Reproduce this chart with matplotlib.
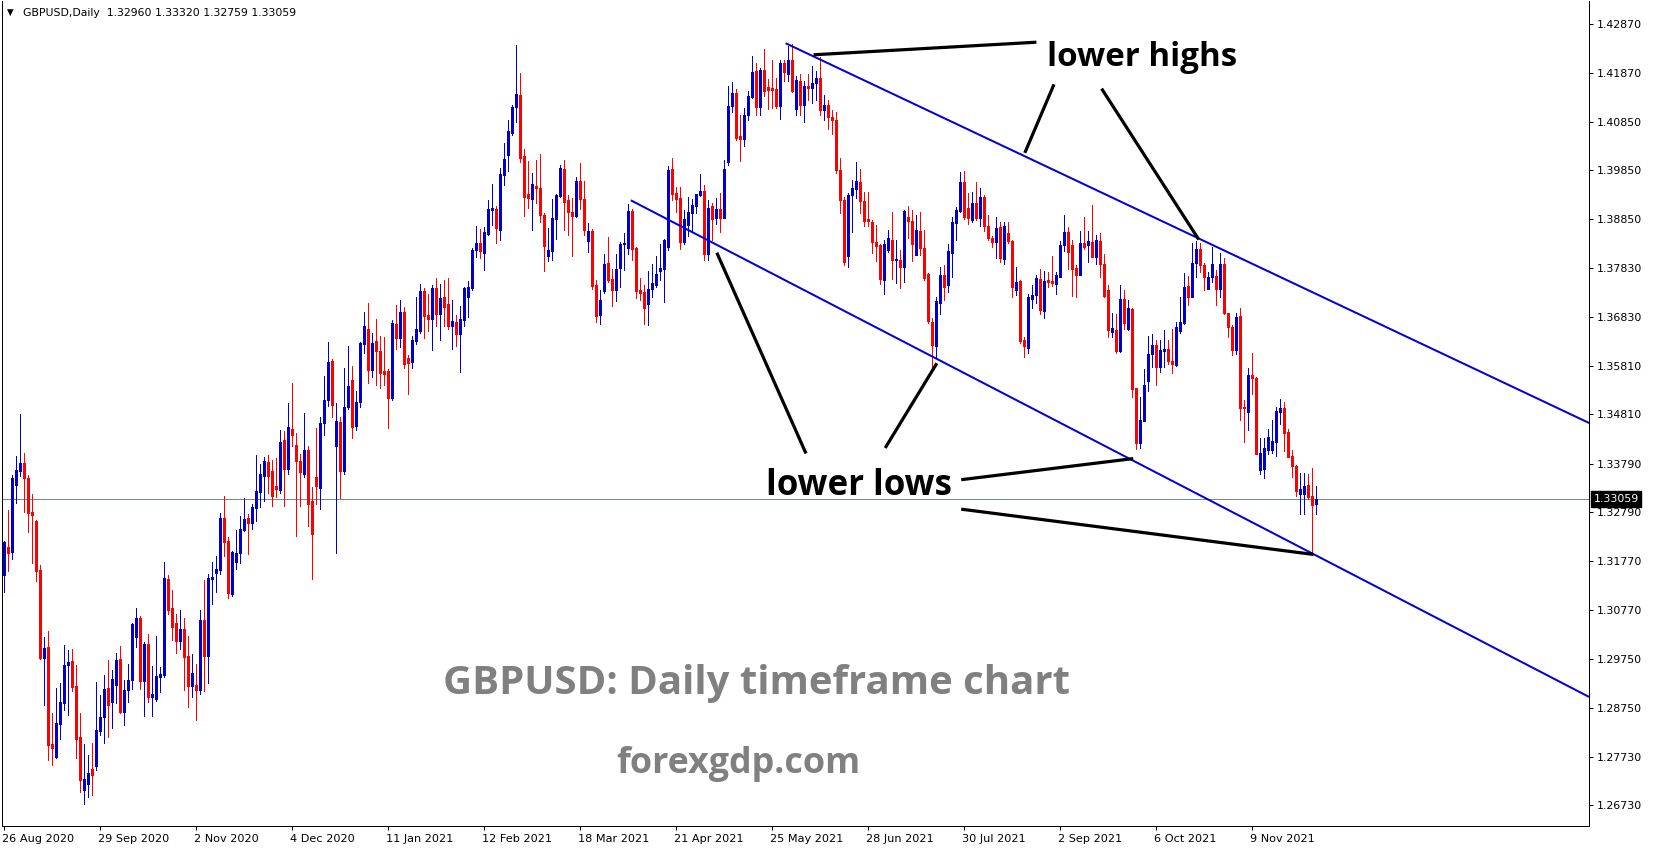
import matplotlib
matplotlib.use('Agg')
import matplotlib.pyplot as plt
from matplotlib.transforms import ScaledTranslation, blended_transform_factory

W, H, DPI = 1653, 850, 100

# ---------------- data (GBPUSD daily candles) ----------------
opens = [
    1.3149, 1.3206, 1.3197, 1.3335, 1.3364, 1.3381, 1.3350, 1.3280, 1.3260, 1.3159,  # 0
    1.2978, 1.3001, 1.2799, 1.2773, 1.2842, 1.2884, 1.2963, 1.2971, 1.2920, 1.2815,  # 10
    1.2705, 1.2718, 1.2749, 1.2754, 1.2827, 1.2856, 1.2916, 1.2887, 1.2921, 1.2975,  # 20
    1.2866, 1.2911, 1.2932, 1.3021, 1.3061, 1.2930, 1.3007, 1.2897, 1.2892, 1.2939,  # 30
    1.2942, 1.3140, 1.3080, 1.3049, 1.3013, 1.3037, 1.2981, 1.2919, 1.2922, 1.2912,  # 40
    1.3056, 1.2982, 1.3140, 1.3153, 1.3159, 1.3267, 1.3219, 1.3109, 1.3175, 1.3194,  # 50
    1.3242, 1.3267, 1.3257, 1.3288, 1.3321, 1.3354, 1.3383, 1.3363, 1.3332, 1.3325,  # 60
    1.3427, 1.3369, 1.3451, 1.3418, 1.3384, 1.3358, 1.3407, 1.3301, 1.3352, 1.3328,  # 70
    1.3463, 1.3511, 1.3591, 1.3416, 1.3466, 1.3364, 1.3496, 1.3552, 1.3457, 1.3506,  # 80
    1.3627, 1.3657, 1.3573, 1.3633, 1.3612, 1.3570, 1.3571, 1.3515, 1.3667, 1.3638,  # 90
    1.3692, 1.3597, 1.3589, 1.3633, 1.3653, 1.3735, 1.3687, 1.3678, 1.3741, 1.3689,  # 100
    1.3724, 1.3708, 1.3663, 1.3672, 1.3646, 1.3676, 1.3723, 1.3741, 1.3820, 1.3835,  # 110
    1.3815, 1.3853, 1.3903, 1.3906, 1.3862, 1.3976, 1.4017, 1.4063, 1.4115, 1.4141,  # 120
    1.4014, 1.3936, 1.3926, 1.3953, 1.3948, 1.3893, 1.3808, 1.3819, 1.3884, 1.3933,  # 130
    1.3988, 1.3924, 1.3900, 1.3891, 1.3962, 1.3926, 1.3839, 1.3860, 1.3748, 1.3686,  # 140
    1.3736, 1.3793, 1.3760, 1.3738, 1.3784, 1.3833, 1.3825, 1.3901, 1.3824, 1.3738,  # 150
    1.3734, 1.3709, 1.3740, 1.3748, 1.3778, 1.3782, 1.3827, 1.3988, 1.3939, 1.3927,  # 160
    1.3836, 1.3872, 1.3897, 1.3912, 1.3934, 1.3942, 1.3813, 1.3911, 1.3886, 1.3906,  # 170
    1.3887, 1.4003, 1.4117, 1.4145, 1.4055, 1.4050, 1.4099, 1.4137, 1.4190, 1.4115,  # 180
    1.4192, 1.4158, 1.4156, 1.4153, 1.4119, 1.4207, 1.4185, 1.4214, 1.4112, 1.4170,  # 190
    1.4120, 1.4160, 1.4155, 1.4165, 1.4175, 1.4110, 1.4120, 1.4095, 1.4090, 1.3986,  # 200
    1.3924, 1.3808, 1.3934, 1.3946, 1.3960, 1.3922, 1.3884, 1.3879, 1.3836, 1.3831,  # 210
    1.3758, 1.3820, 1.3842, 1.3800, 1.3800, 1.3785, 1.3888, 1.3881, 1.3811, 1.3860,  # 220
    1.3824, 1.3771, 1.3671, 1.3623, 1.3712, 1.3769, 1.3748, 1.3815, 1.3877, 1.3901,  # 230
    1.3960, 1.3907, 1.3882, 1.3917, 1.3886, 1.3929, 1.3871, 1.3846, 1.3836, 1.3869,  # 240
    1.3802, 1.3855, 1.3840, 1.3738, 1.3756, 1.3634, 1.3617, 1.3719, 1.3727, 1.3760,  # 250
    1.3695, 1.3758, 1.3756, 1.3751, 1.3765, 1.3831, 1.3857, 1.3831, 1.3784, 1.3769,  # 260
    1.3834, 1.3831, 1.3838, 1.3805, 1.3839, 1.3791, 1.3738, 1.3652, 1.3656, 1.3612,  # 270
    1.3719, 1.3658, 1.3698, 1.3536, 1.3421, 1.3468, 1.3550, 1.3605, 1.3624, 1.3579,  # 280
    1.3612, 1.3616, 1.3591, 1.3583, 1.3653, 1.3669, 1.3746, 1.3724, 1.3793, 1.3822,  # 290
    1.3789, 1.3740, 1.3764, 1.3767, 1.3740, 1.3791, 1.3691, 1.3662, 1.3614, 1.3684,  # 300
    1.3495, 1.3485, 1.3562, 1.3555, 1.3366, 1.3367, 1.3408, 1.3407, 1.3424, 1.3486,  # 310
    1.3493, 1.3445, 1.3394, 1.3375, 1.3316, 1.3316, 1.3335, 1.3313, 1.32960,         # 320
]
highs = [
    1.3220, 1.3283, 1.3355, 1.3395, 1.3482, 1.3402, 1.3355, 1.3316, 1.3262, 1.3170,
    1.3021, 1.3034, 1.2863, 1.2916, 1.2925, 1.3004, 1.2995, 1.2997, 1.2963, 1.2864,
    1.2800, 1.2777, 1.2801, 1.2927, 1.2901, 1.2942, 1.2974, 1.2952, 1.2987, 1.3003,
    1.2932, 1.2966, 1.3049, 1.3080, 1.3065, 1.3010, 1.3027, 1.2961, 1.3023, 1.2959,
    1.3175, 1.3149, 1.3119, 1.3068, 1.3076, 1.3061, 1.3023, 1.2985, 1.2966, 1.3076,
    1.3138, 1.3151, 1.3176, 1.3189, 1.3278, 1.3312, 1.3228, 1.3198, 1.3242, 1.3271,
    1.3309, 1.3276, 1.3296, 1.3397, 1.3378, 1.3393, 1.3397, 1.3387, 1.3390, 1.3449,
    1.3446, 1.3505, 1.3546, 1.3443, 1.3399, 1.3484, 1.3416, 1.3330, 1.3452, 1.3475,
    1.3560, 1.3630, 1.3596, 1.3505, 1.3475, 1.3577, 1.3623, 1.3580, 1.3530, 1.3631,
    1.3692, 1.3711, 1.3648, 1.3678, 1.3642, 1.3641, 1.3575, 1.3676, 1.3706, 1.3717,
    1.3702, 1.3603, 1.3642, 1.3724, 1.3751, 1.3741, 1.3729, 1.3748, 1.3763, 1.3751,
    1.3758, 1.3763, 1.3717, 1.3687, 1.3704, 1.3745, 1.3756, 1.3825, 1.3870, 1.3864,
    1.3868, 1.3924, 1.3956, 1.3911, 1.3989, 1.4041, 1.4090, 1.4120, 1.4243, 1.4187,
    1.4030, 1.4004, 1.3980, 1.4006, 1.4019, 1.3896, 1.3865, 1.3926, 1.3937, 1.3996,
    1.4006, 1.3934, 1.3927, 1.3972, 1.4001, 1.3962, 1.3877, 1.3863, 1.3758, 1.3738,
    1.3812, 1.3848, 1.3782, 1.3812, 1.3838, 1.3855, 1.3915, 1.3905, 1.3826, 1.3762,
    1.3748, 1.3778, 1.3791, 1.3809, 1.3833, 1.3843, 1.3995, 1.4011, 1.3951, 1.3951,
    1.3903, 1.3931, 1.3925, 1.3937, 1.3977, 1.3955, 1.3924, 1.3917, 1.3927, 1.3939,
    1.4006, 1.4159, 1.4167, 1.4154, 1.4099, 1.4113, 1.4148, 1.4221, 1.4206, 1.4196,
    1.4236, 1.4173, 1.4213, 1.4176, 1.4214, 1.4213, 1.4241, 1.4247, 1.4180, 1.4185,
    1.4170, 1.4185, 1.4200, 1.4190, 1.4220, 1.4140, 1.4130, 1.4110, 1.4105, 1.4010,
    1.3930, 1.3938, 1.3965, 1.4002, 1.3988, 1.3940, 1.3940, 1.3882, 1.3872, 1.3832,
    1.3842, 1.3862, 1.3900, 1.3842, 1.3820, 1.3903, 1.3911, 1.3904, 1.3893, 1.3900,
    1.3862, 1.3773, 1.3679, 1.3724, 1.3786, 1.3789, 1.3832, 1.3889, 1.3910, 1.3981,
    1.3984, 1.3938, 1.3940, 1.3960, 1.3948, 1.3935, 1.3893, 1.3850, 1.3888, 1.3879,
    1.3878, 1.3878, 1.3842, 1.3785, 1.3758, 1.3641, 1.3729, 1.3748, 1.3769, 1.3782,
    1.3777, 1.3776, 1.3808, 1.3774, 1.3840, 1.3893, 1.3867, 1.3842, 1.3789, 1.3860,
    1.3888, 1.3860, 1.3913, 1.3851, 1.3855, 1.3813, 1.3748, 1.3691, 1.3688, 1.3748,
    1.3738, 1.3717, 1.3700, 1.3536, 1.3516, 1.3574, 1.3643, 1.3647, 1.3634, 1.3634,
    1.3656, 1.3634, 1.3658, 1.3672, 1.3723, 1.3772, 1.3767, 1.3834, 1.3840, 1.3834,
    1.3793, 1.3776, 1.3826, 1.3779, 1.3815, 1.3803, 1.3691, 1.3665, 1.3691, 1.3700,
    1.3510, 1.3576, 1.3608, 1.3559, 1.3433, 1.3432, 1.3450, 1.3470, 1.3497, 1.3512,
    1.3507, 1.3450, 1.3408, 1.3376, 1.3359, 1.3360, 1.3357, 1.3371, 1.33320,
]
lows = [
    1.3114, 1.3157, 1.3182, 1.3298, 1.3354, 1.3280, 1.3238, 1.3173, 1.3137, 1.2975,
    1.2880, 1.2766, 1.2756, 1.2770, 1.2811, 1.2870, 1.2859, 1.2909, 1.2771, 1.2700,
    1.2675, 1.2690, 1.2695, 1.2746, 1.2818, 1.2801, 1.2815, 1.2832, 1.2884, 1.2863,
    1.2839, 1.2887, 1.2914, 1.3001, 1.2914, 1.2858, 1.2887, 1.2858, 1.2889, 1.2908,
    1.2939, 1.3068, 1.3014, 1.2988, 1.2996, 1.2911, 1.2877, 1.2896, 1.2849, 1.2904,
    1.2910, 1.2926, 1.3090, 1.3114, 1.3152, 1.3189, 1.3102, 1.3106, 1.3161, 1.3174,
    1.3240, 1.3192, 1.3243, 1.3260, 1.3290, 1.3302, 1.3319, 1.3291, 1.3310, 1.3319,
    1.3291, 1.3357, 1.3416, 1.3230, 1.3292, 1.3352, 1.3250, 1.3140, 1.3295, 1.3285,
    1.3439, 1.3499, 1.3476, 1.3194, 1.3308, 1.3357, 1.3491, 1.3433, 1.3448, 1.3496,
    1.3607, 1.3546, 1.3558, 1.3541, 1.3536, 1.3541, 1.3453, 1.3510, 1.3616, 1.3621,
    1.3577, 1.3523, 1.3576, 1.3626, 1.3650, 1.3638, 1.3653, 1.3614, 1.3663, 1.3635,
    1.3663, 1.3658, 1.3616, 1.3623, 1.3569, 1.3663, 1.3683, 1.3738, 1.3805, 1.3803,
    1.3779, 1.3851, 1.3872, 1.3834, 1.3842, 1.3954, 1.3984, 1.4058, 1.4084, 1.4002,
    1.3891, 1.3907, 1.3862, 1.3917, 1.3879, 1.3778, 1.3798, 1.3800, 1.3843, 1.3931,
    1.3862, 1.3851, 1.3808, 1.3889, 1.3906, 1.3851, 1.3817, 1.3739, 1.3672, 1.3667,
    1.3731, 1.3755, 1.3705, 1.3716, 1.3743, 1.3779, 1.3813, 1.3800, 1.3722, 1.3717,
    1.3667, 1.3665, 1.3724, 1.3744, 1.3758, 1.3713, 1.3820, 1.3924, 1.3900, 1.3823,
    1.3833, 1.3850, 1.3857, 1.3896, 1.3933, 1.3800, 1.3800, 1.3841, 1.3874, 1.3857,
    1.3886, 1.3996, 1.4105, 1.4048, 1.4005, 1.4036, 1.4090, 1.4134, 1.4099, 1.4099,
    1.4139, 1.4111, 1.4113, 1.4113, 1.4091, 1.4170, 1.4170, 1.4146, 1.4100, 1.4100,
    1.4085, 1.4130, 1.4125, 1.4130, 1.4100, 1.4090, 1.4070, 1.4060, 1.3980, 1.3896,
    1.3789, 1.3786, 1.3858, 1.3927, 1.3896, 1.3871, 1.3871, 1.3815, 1.3798, 1.3750,
    1.3729, 1.3817, 1.3760, 1.3753, 1.3741, 1.3755, 1.3845, 1.3798, 1.3810, 1.3810,
    1.3758, 1.3670, 1.3572, 1.3597, 1.3688, 1.3717, 1.3734, 1.3765, 1.3841, 1.3898,
    1.3884, 1.3874, 1.3879, 1.3882, 1.3870, 1.3860, 1.3841, 1.3826, 1.3803, 1.3796,
    1.3791, 1.3834, 1.3724, 1.3727, 1.3629, 1.3600, 1.3607, 1.3700, 1.3710, 1.3688,
    1.3679, 1.3745, 1.3746, 1.3729, 1.3764, 1.3818, 1.3782, 1.3725, 1.3724, 1.3768,
    1.3822, 1.3796, 1.3805, 1.3791, 1.3764, 1.3724, 1.3640, 1.3641, 1.3608, 1.3610,
    1.3658, 1.3656, 1.3517, 1.3410, 1.3412, 1.3468, 1.3530, 1.3579, 1.3541, 1.3569,
    1.3579, 1.3585, 1.3567, 1.3581, 1.3650, 1.3667, 1.3707, 1.3723, 1.3764, 1.3776,
    1.3738, 1.3740, 1.3755, 1.3707, 1.3723, 1.3688, 1.3640, 1.3603, 1.3605, 1.3469,
    1.3424, 1.3448, 1.3523, 1.3398, 1.3357, 1.3350, 1.3400, 1.3402, 1.3395, 1.3462,
    1.3406, 1.3392, 1.3351, 1.3312, 1.3276, 1.3276, 1.3307, 1.3193, 1.32759,
]
closes = [
    1.3218, 1.3195, 1.3350, 1.3366, 1.3380, 1.3349, 1.3278, 1.3273, 1.3158, 1.2977,
    1.2999, 1.2797, 1.2792, 1.2844, 1.2887, 1.2963, 1.2970, 1.2918, 1.2811, 1.2725,
    1.2727, 1.2739, 1.2735, 1.2828, 1.2856, 1.2913, 1.2881, 1.2934, 1.2973, 1.2866,
    1.2911, 1.2933, 1.3047, 1.3060, 1.2930, 1.3007, 1.2897, 1.2904, 1.2940, 1.2944,
    1.3143, 1.3076, 1.3042, 1.3013, 1.3037, 1.2980, 1.2919, 1.2947, 1.2912, 1.3056,
    1.2982, 1.3142, 1.3145, 1.3161, 1.3267, 1.3218, 1.3111, 1.3196, 1.3194, 1.3244,
    1.3265, 1.3257, 1.3290, 1.3322, 1.3357, 1.3384, 1.3353, 1.3313, 1.3326, 1.3424,
    1.3369, 1.3455, 1.3439, 1.3384, 1.3361, 1.3407, 1.3295, 1.3233, 1.3332, 1.3463,
    1.3511, 1.3589, 1.3500, 1.3468, 1.3364, 1.3496, 1.3539, 1.3455, 1.3506, 1.3629,
    1.3664, 1.3573, 1.3629, 1.3612, 1.3566, 1.3564, 1.3515, 1.3670, 1.3638, 1.3692,
    1.3585, 1.3588, 1.3635, 1.3657, 1.3735, 1.3685, 1.3678, 1.3741, 1.3689, 1.3722,
    1.3702, 1.3663, 1.3673, 1.3646, 1.3677, 1.3741, 1.3743, 1.3821, 1.3835, 1.3818,
    1.3857, 1.3905, 1.3907, 1.3866, 1.3977, 1.4008, 1.4066, 1.4116, 1.4143, 1.4010,
    1.3930, 1.3928, 1.3956, 1.3948, 1.3893, 1.3829, 1.3820, 1.3886, 1.3934, 1.3990,
    1.3919, 1.3900, 1.3891, 1.3962, 1.3926, 1.3862, 1.3860, 1.3746, 1.3684, 1.3718,
    1.3791, 1.3758, 1.3738, 1.3782, 1.3833, 1.3835, 1.3901, 1.3822, 1.3736, 1.3732,
    1.3701, 1.3740, 1.3753, 1.3770, 1.3784, 1.3841, 1.3986, 1.3937, 1.3926, 1.3838,
    1.3884, 1.3898, 1.3913, 1.3936, 1.3942, 1.3813, 1.3908, 1.3884, 1.3906, 1.3887,
    1.3987, 1.4118, 1.4145, 1.4052, 1.4050, 1.4099, 1.4139, 1.4189, 1.4115, 1.4192,
    1.4150, 1.4152, 1.4151, 1.4118, 1.4207, 1.4189, 1.4214, 1.4149, 1.4172, 1.4120,
    1.4160, 1.4155, 1.4165, 1.4175, 1.4110, 1.4120, 1.4095, 1.4090, 1.3986, 1.3924,
    1.3796, 1.3934, 1.3948, 1.3963, 1.3922, 1.3881, 1.3880, 1.3836, 1.3829, 1.3760,
    1.3833, 1.3845, 1.3800, 1.3802, 1.3785, 1.3901, 1.3881, 1.3833, 1.3862, 1.3824,
    1.3763, 1.3674, 1.3625, 1.3715, 1.3769, 1.3745, 1.3818, 1.3879, 1.3903, 1.3960,
    1.3889, 1.3886, 1.3917, 1.3886, 1.3929, 1.3871, 1.3846, 1.3838, 1.3865, 1.3803,
    1.3870, 1.3840, 1.3743, 1.3755, 1.3633, 1.3622, 1.3723, 1.3727, 1.3763, 1.3696,
    1.3756, 1.3755, 1.3753, 1.3769, 1.3831, 1.3857, 1.3817, 1.3781, 1.3769, 1.3834,
    1.3827, 1.3839, 1.3807, 1.3841, 1.3791, 1.3725, 1.3656, 1.3660, 1.3612, 1.3719,
    1.3669, 1.3700, 1.3534, 1.3421, 1.3470, 1.3541, 1.3605, 1.3624, 1.3579, 1.3614,
    1.3616, 1.3591, 1.3585, 1.3662, 1.3672, 1.3743, 1.3724, 1.3794, 1.3822, 1.3789,
    1.3764, 1.3764, 1.3791, 1.3740, 1.3791, 1.3691, 1.3662, 1.3614, 1.3683, 1.3495,
    1.3493, 1.3562, 1.3555, 1.3400, 1.3402, 1.3412, 1.3435, 1.3426, 1.3488, 1.3495,
    1.3443, 1.3393, 1.3375, 1.3323, 1.3326, 1.3333, 1.3311, 1.3293, 1.33059,
]

date_labels = ['26 Aug 2020', '29 Sep 2020', '2 Nov 2020', '4 Dec 2020', '11 Jan 2021',
               '12 Feb 2021', '18 Mar 2021', '21 Apr 2021', '25 May 2021', '28 Jun 2021',
               '30 Jul 2021', '2 Sep 2021', '6 Oct 2021', '9 Nov 2021']
date_label_bars = [0, 24, 48, 72, 96, 120, 144, 168, 192, 216, 240, 264, 288, 312]
price_ticks = [1.42870, 1.41870, 1.40850, 1.39850, 1.38850, 1.37830, 1.36830, 1.35810,
               1.34810, 1.33790, 1.32790, 1.31770, 1.30770, 1.29750, 1.28750, 1.27730, 1.26730]
last_price = 1.33059
header_symbol = 'GBPUSD,Daily'
header_ohlc = [1.32960, 1.33320, 1.32759, 1.33059]

# drawn channel lines (bar index, price)
upper_channel_bars = [195.5, 396.4]
upper_channel_prices = [1.42477, 1.34630]
lower_channel_bars = [156.8, 396.4]
lower_channel_prices = [1.39232, 1.28969]

# black pointer lines (bar index, price)
highs_pointer_bars = [[258.2, 202.5], [262.6, 255.3], [274.5, 298.8]]
highs_pointer_prices = [[1.42498, 1.42238], [1.41628, 1.40211], [1.41539, 1.38420]]
lows_pointer_bars = [[239.4, 282.4], [239.4, 327.5], [200.6, 178.3], [220.4, 233.3]]
lows_pointer_prices = [[1.33459, 1.33895], [1.32850, 1.31914], [1.34000, 1.38149], [1.34114, 1.35864]]

# ---------------- figure ----------------
UP = '#0000cd'
DOWN = '#ff0000'
PX = 72.0 / DPI  # points per pixel

fig = plt.figure(figsize=(W / DPI, H / DPI), dpi=DPI)
fig.patch.set_facecolor('white')
renderer = fig.canvas.get_renderer()


def size_for(s, width_px, family='DejaVu Sans', weight='normal'):
    fs = 20.0
    t = fig.text(0, 0, s, fontsize=fs, family=family, fontweight=weight)
    for _ in range(4):
        t.set_fontsize(fs)
        w = t.get_window_extent(renderer=renderer).width
        fs = fs * width_px / w
    t.remove()
    return fs


ax_left, ax_right, ax_top, ax_bottom = 2, 1589, 1, 826
ax = fig.add_axes([ax_left / W, (H - ax_bottom) / H, (ax_right - ax_left) / W, (ax_bottom - ax_top) / H])

# pixel mapping of the price scale
px_per_price = 4840.0
ref_price, ref_px = 1.42870, 24.2
ax.set_ylim(ref_price - (ax_bottom - ref_px) / px_per_price, ref_price + (ref_px - ax_top) / px_per_price)
bar_px, bar0_px = 4.0, 3.6
ax.set_xlim((ax_left - bar0_px) / bar_px, (ax_right - bar0_px) / bar_px)

min_body = 1.0 / px_per_price
for i, (o, h, l, c) in enumerate(zip(opens, highs, lows, closes)):
    col = UP if c >= o else DOWN
    ax.vlines(i, l, h, colors=col, linewidth=1.0 * PX, antialiased=False)
    lo, hi = min(o, c), max(o, c)
    if hi - lo < min_body:
        hi = lo + min_body
    ax.vlines(i, lo, hi, colors=col, linewidth=3.0 * PX, antialiased=False)

# price line
ax.axhline(last_price, color='#778899', linewidth=1.0 * PX, zorder=1)

# channel lines
ax.plot(upper_channel_bars, upper_channel_prices, color='#0000d8', linewidth=2.0 * PX, solid_capstyle='butt')
ax.plot(lower_channel_bars, lower_channel_prices, color='#0000d8', linewidth=2.0 * PX, solid_capstyle='butt')

# pointer lines
for bx, py in zip(highs_pointer_bars + lows_pointer_bars, highs_pointer_prices + lows_pointer_prices):
    ax.plot(bx, py, color='black', linewidth=3.2 * PX, solid_capstyle='butt')

# axes styling
for s in ['left', 'right', 'bottom']:
    ax.spines[s].set_linewidth(1.0 * PX)
    ax.spines[s].set_color('black')
ax.spines['top'].set_visible(False)

ylab_size = size_for('1.42870', 45)
xlab_size = size_for('29 Sep 2020', 71)

ax.yaxis.tick_right()
ax.set_yticks(price_ticks)
ax.set_yticklabels(['%.5f' % v for v in price_ticks])
ax.tick_params(axis='y', direction='out', length=4 * PX, width=1.0 * PX, pad=4 * PX,
               labelsize=ylab_size, colors='black')
ax.set_xticks(date_label_bars)
ax.set_xticklabels(date_labels)
ax.tick_params(axis='x', direction='out', length=4 * PX, width=1.0 * PX, pad=4 * PX,
               labelsize=xlab_size, colors='black')
shift = ScaledTranslation(-1.5 / DPI, 0, fig.dpi_scale_trans)
for lab in ax.get_xticklabels():
    lab.set_horizontalalignment('left')
    lab.set_transform(lab.get_transform() + shift)

# last price label box
bt = blended_transform_factory(ax.transAxes, ax.transData)
ax.text(1.0, last_price, '%.5f' % last_price,
        transform=bt + ScaledTranslation(4.5 / DPI, 0, fig.dpi_scale_trans),
        ha='left', va='center', color='white', fontsize=ylab_size,
        bbox=dict(facecolor='black', edgecolor='black', pad=2.0), clip_on=False, zorder=10)

# header
header = header_symbol + '  ' + ' '.join('%.5f' % v for v in header_ohlc)
hsize = size_for(header, 274)
fig.text(10.5 / W, 1 - 12.7 / H, '\u25BC', fontsize=hsize * 0.8, ha='center', va='center', color='black')
fig.text(22.7 / W, 1 - 12.7 / H, header, fontsize=hsize, ha='left', va='center', color='black')


def fitted(x_px, baseline_px, s, width_px, color, family='Open Sans'):
    fs = size_for(s, width_px, family=family, weight='bold')
    return fig.text(x_px / W, 1 - baseline_px / H, s, fontsize=fs, fontweight='bold', family=family,
                    ha='left', va='baseline', color=color)


fitted(1046.8, 66.4, 'lower highs', 190, 'black')
fitted(766.4, 495.5, 'lower lows', 186, 'black')
fitted(442.8, 693.7, 'GBPUSD: Daily timeframe chart', 627, '#808080')
fitted(616.7, 772.7, 'forexgdp.com', 245, '#808080')

fig.savefig('out.png', dpi=DPI, facecolor='white')
